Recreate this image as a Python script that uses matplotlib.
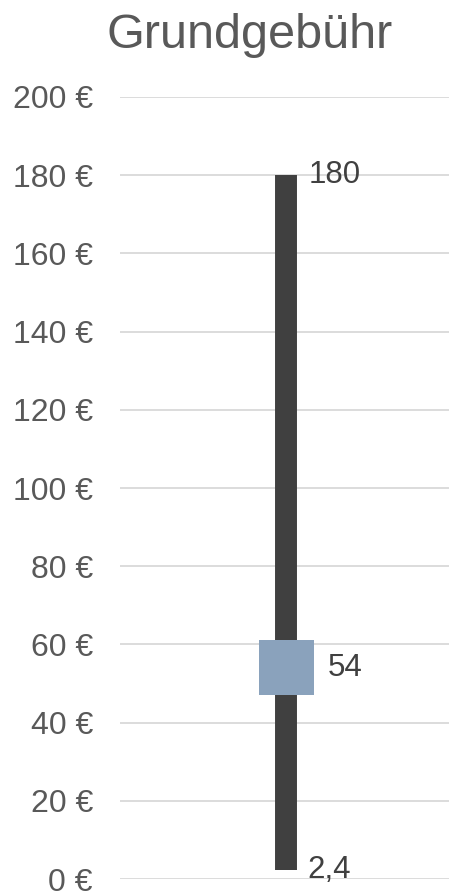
import matplotlib.pyplot as plt
from matplotlib.ticker import FuncFormatter
import numpy as np

plt.rcParams['font.family'] = ['Liberation Sans', 'DejaVu Sans']

# data
low = 2.4
high = 180
mid = 54
labels = ['180', '54', '2,4']
yticks = np.arange(0, 201, 20)

fig = plt.figure(figsize=(4.49, 8.96), dpi=100)
ax = fig.add_axes([120 / 449, 1 - 879 / 896, 329 / 449, (879 - 97) / 896])

xc = 0.505
ax.vlines(xc, low, high, color='#404040', linewidth=15.8, zorder=3)
ax.bar(xc, 14.0, bottom=mid - 7.0, width=55 / 329, color='#8AA2BC', zorder=4)

ax.text(0.572, high, labels[0], fontsize=22.5, color='#404040', va='center', ha='left')
ax.text(0.63, mid, labels[1], fontsize=22.5, color='#404040', va='center', ha='left')
ax.text(0.57, low, labels[2], fontsize=22.5, color='#404040', va='center', ha='left')

ax.set_xlim(0, 1)
ax.set_ylim(0, 200)
ax.set_yticks(yticks)
ax.yaxis.set_major_formatter(FuncFormatter(lambda v, p: '%d €' % v))
ax.tick_params(axis='y', length=0, pad=19.5, labelsize=23, labelcolor='#595959')
ax.set_xticks([])
ax.grid(axis='y', color='#D9D9D9', linewidth=1.3)
ax.set_axisbelow(True)
for s in ax.spines.values():
    s.set_visible(False)

fig.text(250 / 449, 1 - 35 / 896, 'Grundgebühr', fontsize=35, color='#595959',
         ha='center', va='center')

fig.savefig('out.png', dpi=100)
